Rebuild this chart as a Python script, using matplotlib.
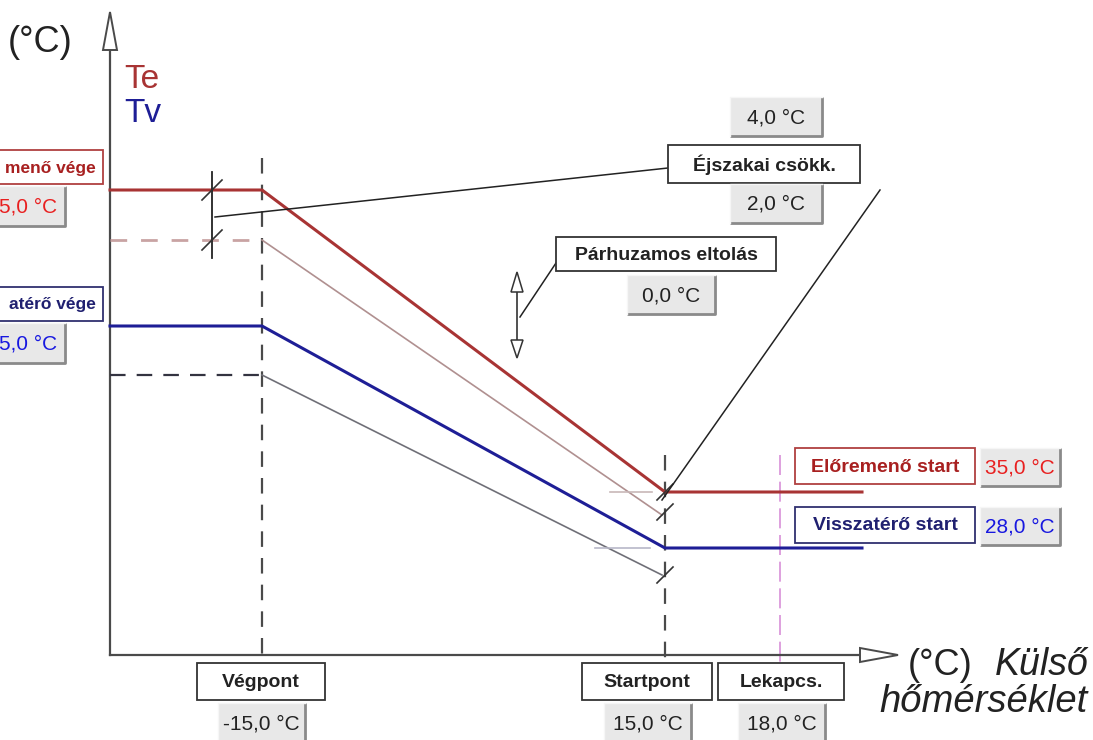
import matplotlib.pyplot as plt
from matplotlib.patches import Rectangle, Polygon

# schematic coordinates (pixels, y grows downwards)
te_x = [110, 262, 665, 862]
te_y = [190, 190, 492, 492]
te_night_x = [110, 262]
te_night_y = [240, 240]
te_night_slope_x = [262, 662]
te_night_slope_y = [240, 515]
tv_x = [110, 262, 665, 862]
tv_y = [326, 326, 548, 548]
tv_night_x = [110, 262]
tv_night_y = [375, 375]
tv_night_slope_x = [262, 662]
tv_night_slope_y = [375, 575]

point_labels = ["Végpont", "Startpont", "Lekapcs."]
point_values = ["-15,0 °C", "15,0 °C", "18,0 °C"]
point_x = [262, 665, 780]
point_box_x = [261, 647, 781]

# the left boxes are cut by the frame in the original, only this part shows
te_end_label = "menő vége"
tv_end_label = "atérő vége"
te_end_value = "5,0 °C"
tv_end_value = "5,0 °C"
te_start_value = "35,0 °C"
tv_start_value = "28,0 °C"
night_values = ["4,0 °C", "2,0 °C"]
shift_value = "0,0 °C"

RED = "#a83434"
RED_LIGHT = "#c9a3a3"
NAVY = "#1e1e96"
GRID = "#4a4a4a"
LABEL_FONT = ["Liberation Sans Narrow", "Liberation Sans", "DejaVu Sans"]
VALUE_FONT = ["Liberation Sans", "DejaVu Sans"]

fig = plt.figure(figsize=(10.93, 7.40), dpi=100)
ax = fig.add_axes([0, 0, 1, 1])
ax.set_xlim(0, 1093)
ax.set_ylim(740, 0)
ax.axis("off")


def label_box(x0, y0, x1, y1, text, color="#222222", edge="#333333", size=14):
    ax.add_patch(Rectangle((x0, y0), x1 - x0, y1 - y0, facecolor="white",
                           edgecolor=edge, lw=1.3, zorder=5))
    ax.text(x1 - 7 if x0 < 0 else (x0 + x1) / 2, (y0 + y1) / 2 + 1, text,
            ha="right" if x0 < 0 else "center", va="center", color=color,
            fontsize=size, fontweight="bold", family=LABEL_FONT,
            fontstretch="condensed", zorder=6)


def value_box(x0, y0, x1, y1, text, color="#222222", size=15):
    ax.add_patch(Rectangle((x0, y0), x1 - x0, y1 - y0, facecolor="#e8e8e8",
                           edgecolor="none", zorder=5))
    ax.plot([x0, x1, x1], [y1, y1, y0], color="#8a8a8a", lw=2, zorder=6,
            solid_capstyle="butt")
    ax.plot([x0, x0, x1], [y1, y0, y0], color="#f6f6f6", lw=1, zorder=6)
    ax.text(x1 - 8 if x0 < 0 else (x0 + x1) / 2, (y0 + y1) / 2 + 1, text,
            ha="right" if x0 < 0 else "center", va="center", color=color,
            fontsize=size, family=VALUE_FONT, zorder=7)


def slash(x, y, s=10, color="#333333"):
    ax.plot([x - s, x + s], [y + s, y - s], color=color, lw=1.2, zorder=4)


# axes with hollow arrows
ax.plot([110, 110], [655, 50], color=GRID, lw=1.6, zorder=3)
ax.add_patch(Polygon([[110, 12], [103, 50], [117, 50]], closed=True,
                     facecolor="white", edgecolor=GRID, lw=1.4, zorder=3))
ax.plot([110, 860], [655, 655], color=GRID, lw=1.6, zorder=3)
ax.add_patch(Polygon([[898, 655], [860, 648], [860, 662]], closed=True,
                     facecolor="white", edgecolor=GRID, lw=1.4, zorder=3))

# vertical reference lines
ax.plot([262, 262], [158, 663], color=GRID, lw=1.6, ls=(0, (7, 5)), zorder=2)
ax.plot([665, 665], [455, 663], color=GRID, lw=1.6, ls=(0, (7, 5)), zorder=2)
ax.plot([780, 780], [455, 663], color="#d890d8", lw=1.2, ls=(0, (12, 4)), zorder=2)

# night-reduced curves
ax.plot(te_night_x, te_night_y, color=RED_LIGHT, lw=2, ls=(0, (6, 5)), zorder=3)
ax.plot(te_night_slope_x, te_night_slope_y, color="#b09090", lw=1.2, zorder=3)
ax.plot(tv_night_x, tv_night_y, color="#333340", lw=1.6, ls=(0, (7, 5)), zorder=3)
ax.plot(tv_night_slope_x, tv_night_slope_y, color="#707078", lw=1.2, zorder=3)
ax.plot([610, 652], [492, 492], color="#c8b8b8", lw=1.2, zorder=3)
ax.plot([595, 650], [548, 548], color="#b8b8c8", lw=1.2, zorder=3)

# heating curves
ax.plot(te_x, te_y, color=RED, lw=2.2, zorder=4)
ax.plot(tv_x, tv_y, color=NAVY, lw=2.2, zorder=4)

# night reduction marker
ax.plot([212, 212], [172, 258], color="#222222", lw=1.3, zorder=4)
slash(212, 190)
slash(212, 240)
ax.plot([215, 668], [217, 168], color="#222222", lw=1.1, zorder=4)
slash(665, 492, 8)
slash(665, 512, 8)
slash(665, 575, 8)
ax.plot([662, 880], [500, 190], color="#222222", lw=1.1, zorder=4)

# parallel shift double arrow
ax.plot([517, 517], [292, 340], color="#333333", lw=1.2, zorder=4)
ax.add_patch(Polygon([[517, 272], [511, 292], [523, 292]], closed=True,
                     facecolor="white", edgecolor="#333333", lw=1.1, zorder=4))
ax.add_patch(Polygon([[517, 358], [511, 340], [523, 340]], closed=True,
                     facecolor="white", edgecolor="#333333", lw=1.1, zorder=4))
ax.plot([520, 556], [317, 263], color="#222222", lw=1.1, zorder=4)

# axis titles
ax.text(8, 42, "(°C)", fontsize=26, family=VALUE_FONT, color="#222222",
        ha="left", va="center")
ax.text(124, 88, "Te", fontsize=24, family=VALUE_FONT, color=RED,
        ha="left", va="baseline")
ax.text(124, 122, "Tv", fontsize=24, family=VALUE_FONT, color=NAVY,
        ha="left", va="baseline")
ax.text(908, 675, "(°C)", fontsize=26, family=VALUE_FONT, color="#222222",
        ha="left", va="baseline")
ax.text(1089, 675, "Külső", fontsize=27, family=VALUE_FONT, style="italic",
        color="#222222", ha="right", va="baseline")
ax.text(1088, 712, "hőmérséklet", fontsize=27.5, family=VALUE_FONT,
        style="italic", color="#222222", ha="right", va="baseline")

# left side boxes (cut off by the frame)
label_box(-150, 150, 103, 184, te_end_label, color="#a82020", edge="#b04040",
          size=12.5)
value_box(-150, 186, 65, 226, te_end_value, color="#e82020")
label_box(-150, 287, 103, 321, tv_end_label, color="#202070", edge="#303070",
          size=12.5)
value_box(-150, 323, 65, 363, tv_end_value, color="#1818e0")

# night reduction / shift boxes
value_box(730, 97, 822, 136, night_values[0])
label_box(668, 145, 860, 183, "Éjszakai csökk.")
value_box(730, 184, 822, 223, night_values[1])
label_box(556, 237, 776, 271, "Párhuzamos eltolás")
value_box(627, 275, 715, 314, shift_value)

# start boxes
label_box(795, 448, 975, 484, "Előremenő start", color="#a82020", edge="#b04040")
value_box(980, 448, 1060, 486, te_start_value, color="#e82020")
label_box(795, 507, 975, 543, "Visszatérő start", color="#202070", edge="#303070")
value_box(980, 507, 1060, 545, tv_start_value, color="#1818e0")

# bottom point boxes
widths = [64, 65, 63]
for bx, lab, val, w in zip(point_box_x, point_labels, point_values, widths):
    label_box(bx - w, 663, bx + w, 700, lab)
    value_box(bx - 43, 703, bx + 44, 742, val)

fig.savefig("out.png", dpi=100)
